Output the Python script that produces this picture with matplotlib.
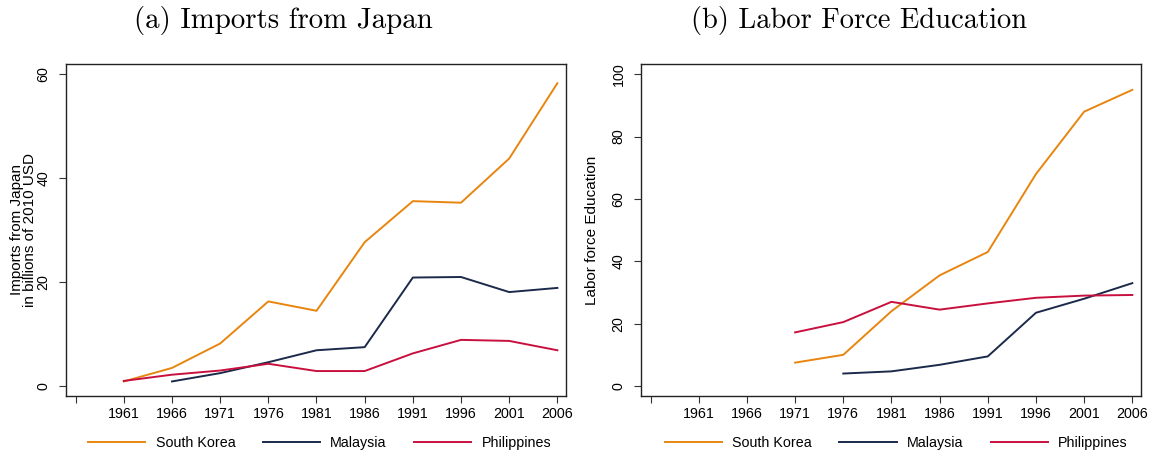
import matplotlib
matplotlib.use("Agg")
import matplotlib.pyplot as plt

# years on the x axis
years = [1961, 1966, 1971, 1976, 1981, 1986, 1991, 1996, 2001, 2006]
tick_years = [1956] + years
tick_labels = [""] + [str(y) for y in years]

# (a) imports from Japan, billions of 2010 USD
imp_korea_years = [1961, 1966, 1971, 1976, 1981, 1986, 1991, 1996, 2001, 2006]
imp_korea = [0.9, 3.5, 8.2, 16.3, 14.5, 27.7, 35.6, 35.3, 43.8, 58.3]
imp_malaysia_years = [1966, 1971, 1976, 1981, 1986, 1991, 1996, 2001, 2006]
imp_malaysia = [0.9, 2.5, 4.6, 6.9, 7.5, 20.9, 21.0, 18.1, 18.9]
imp_phil_years = [1961, 1966, 1971, 1976, 1981, 1986, 1991, 1996, 2001, 2006]
imp_phil = [1.0, 2.2, 3.0, 4.3, 2.9, 2.9, 6.3, 8.9, 8.7, 6.9]

# (b) labor force education
edu_korea_years = [1971, 1976, 1981, 1986, 1991, 1996, 2001, 2006]
edu_korea = [7.5, 10.0, 24.0, 35.5, 43.0, 68.0, 88.0, 95.0]
edu_malaysia_years = [1976, 1981, 1986, 1991, 1996, 2001, 2006]
edu_malaysia = [4.0, 4.7, 6.8, 9.5, 23.5, 28.0, 33.0]
edu_phil_years = [1971, 1976, 1981, 1986, 1991, 1996, 2001, 2006]
edu_phil = [17.2, 20.5, 27.0, 24.5, 26.5, 28.3, 29.0, 29.2]

names = ["South Korea", "Malaysia", "Philippines"]
colors = ["#e8850f", "#1b2a4a", "#c8103e"]

plt.rcParams["font.family"] = ["Liberation Sans", "DejaVu Sans"]
fs = 10.3

fig = plt.figure(figsize=(11.58, 4.57), dpi=100)
ax1 = fig.add_axes([0.057, 0.1335, 0.4318, 0.7265])
ax2 = fig.add_axes([0.5535, 0.1335, 0.4318, 0.7265])


def style_axis(ax, yticks, ylim, legend_x):
    ax.set_xlim(1955.0, 2006.9)
    ax.set_ylim(*ylim)
    ax.set_xticks(tick_years)
    ax.set_xticklabels(tick_labels, fontsize=fs)
    ax.set_yticks(yticks)
    ax.set_yticklabels([str(v) for v in yticks], fontsize=fs, rotation=90, va="center")
    ax.tick_params(direction="out", length=5, width=0.8, color="#333333")
    ax.tick_params(axis="x", pad=3)
    ax.tick_params(axis="y", pad=6)
    for s in ax.spines.values():
        s.set_linewidth(1.0)
        s.set_color("#222222")
    fig.legend(handles=ax.get_lines(), loc="center left",
               bbox_to_anchor=(legend_x, 0.031), ncol=3, frameon=False,
               fontsize=fs, handlelength=4.0, columnspacing=1.9,
               handletextpad=0.73, borderaxespad=0, borderpad=0)


series1 = [(imp_korea_years, imp_korea), (imp_malaysia_years, imp_malaysia), (imp_phil_years, imp_phil)]
for (x, y), name, c in zip(series1, names, colors):
    ax1.plot(x, y, color=c, lw=1.4, label=name)
style_axis(ax1, [0, 20, 40, 60], (-1.9, 62.0), 0.076)
ax1.set_ylabel("Imports from Japan\nin billions of 2010 USD", fontsize=11, linespacing=0.9)
ax1.yaxis.set_label_coords(-0.058, 0.5)

series2 = [(edu_korea_years, edu_korea), (edu_malaysia_years, edu_malaysia), (edu_phil_years, edu_phil)]
for (x, y), name, c in zip(series2, names, colors):
    ax2.plot(x, y, color=c, lw=1.4, label=name)
style_axis(ax2, [0, 20, 40, 60, 80, 100], (-3.2, 103.3), 0.574)
ax2.set_ylabel("Labor force Education", fontsize=11)
ax2.yaxis.set_label_coords(-0.084, 0.5)

fig.text(0.245, 0.955, "(a) Imports from Japan", family="cmr10", fontsize=20.8, ha="center", va="center")
fig.text(0.742, 0.955, "(b) Labor Force Education", family="cmr10", fontsize=20.5, ha="center", va="center")

fig.savefig("out.png", dpi=100, facecolor="white")
